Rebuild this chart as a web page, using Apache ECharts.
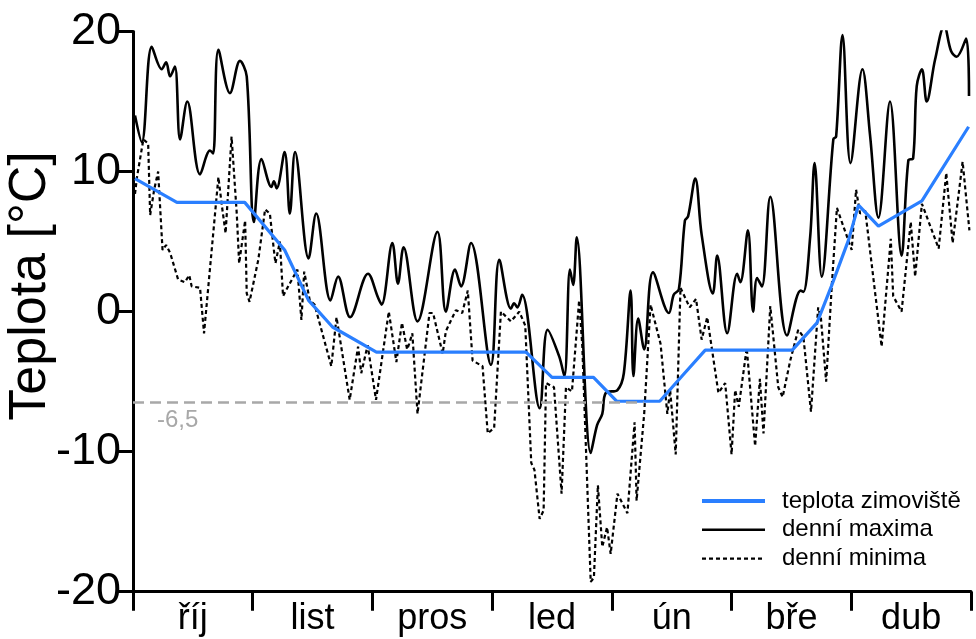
<!DOCTYPE html>
<html><head><meta charset="utf-8">
<script src="https://cdn.jsdelivr.net/npm/echarts@6/dist/echarts.min.js"></script>
<style>html,body{margin:0;padding:0;background:#fff}#c{width:976px;height:639px}</style>
</head><body><div id="c"></div>
<script>
const months = ['říj','list','pros','led','ún','bře','dub'];
const yTicks = [-20,-10,0,10,20];
const seriesNames = ['teplota zimoviště','denní maxima','denní minima'];
const threshold = -6.5;
const thresholdLabel = '-6,5';
const thresholdEndDay = 128;
const dayMax = 210;

// [day, °C]
const shelter = [[0.5,9.5],[11,7.8],[28,7.8],[38,4.4],[44,0.8],[50,-1.1],[61,-2.9],[98.5,-2.9],[105,-4.7],[115.4,-4.7],[121.2,-6.4],[132,-6.4],[137.6,-4.6],[143.4,-2.75],[165.2,-2.75],[171.4,-0.8],[175,1.8],[179.3,5.1],[181.8,7.6],[186.8,6.1],[197.7,7.9],[209.4,13.2]];

const dailyMax = [[0.5,14.0],[2.2,12.1],[4.7,18.9],[7.2,17.3],[8.3,17.8],[9.3,16.8],[10.5,17.5],[11.8,12.3],[13.6,15.0],[16.8,9.8],[19.3,11.5],[20.1,11.3],[21.4,18.7],[24.3,15.6],[26.8,17.9],[28.5,16.8],[30.3,6.4],[32.2,10.9],[34.7,8.9],[35.3,9.3],[36,8.8],[38,11.4],[39.3,7.0],[40.6,11.4],[44,3.8],[45.9,7.0],[49.5,0.8],[51.4,2.5],[54.4,-0.4],[58.9,2.7],[61.4,1.0],[62.3,0.5],[65,4.9],[66.4,2.0],[67.8,4.6],[71.3,-0.7],[76.3,5.7],[78.4,0.0],[80.7,3.0],[82.2,1.8],[84.7,4.9],[89.7,-3.8],[91.8,3.7],[94.7,0.2],[95.5,0.6],[96.3,0.3],[97.5,1.2],[101.9,-6.9],[103.9,-1.3],[106.8,-3.2],[108.1,-4.6],[109.5,3.0],[110.3,1.9],[111.2,5.3],[114.7,-10.1],[116.3,-8.1],[117.6,-7.3],[118.5,-5.8],[121.4,-5.6],[123,-4.4],[124.7,1.5],[125.4,-4.6],[126.6,-0.5],[128.1,-2.7],[130.3,2.8],[134.3,-0.1],[135.5,1.2],[136.8,1.6],[138.3,6.5],[139.1,6.8],[140.9,9.5],[142.5,5.5],[145.3,1.3],[146.4,4.0],[148.9,-1.55],[151.4,2.7],[152.2,2.1],[154.1,5.8],[155.4,0.0],[156.4,2.4],[157.6,1.8],[159.7,8.2],[163.9,-1.7],[167.3,1.5],[168,1.4],[169.7,5.35],[170.8,10.6],[172.6,2.5],[175.5,12.3],[176.2,12.5],[177.8,19.75],[179.8,10.6],[182.8,17.3],[184.7,12.6],[186.8,6.7],[189.7,15.0],[192.6,4.0],[194.3,10.8],[195.5,10.95],[196.4,16.1],[197.7,17.3],[198.9,15.0],[201,18.0],[203.3,20.4],[205,18.6],[206.4,18.2],[208.8,19.5],[209.5,15.4]];

const dailyMin = [[0.5,8.4],[1.0,9.6],[2.6,12.3],[3.8,12.0],[4.3,6.9],[5.3,8.7],[6.3,10.0],[7.4,4.4],[8.3,4.75],[9.3,4.2],[11.3,2.3],[13,2.1],[14.1,2.6],[14.7,1.8],[16.8,1.7],[17.8,-1.55],[21.4,9.6],[22.3,7.5],[23.2,5.6],[24.7,12.5],[26,7.0],[26.6,3.45],[28.1,6.5],[28.5,1.3],[29.2,0.7],[31.4,3.7],[33.1,7.3],[34.3,7.0],[35.3,4.4],[35.7,3.45],[36.8,5.0],[37.6,1.1],[38.5,1.6],[41.2,3.0],[42.2,-0.6],[42.9,2.85],[44.3,0.8],[45.5,0.5],[49.7,-3.9],[51,-0.4],[54.3,-6.3],[56.4,-2.5],[57.2,-4.4],[58.8,-2.4],[60.9,-6.3],[64.1,0.0],[66,-3.6],[67.4,-0.8],[68.7,-2.7],[69.2,-2.3],[70,-1.55],[71.3,-7.3],[74.3,-0.1],[75.2,-0.1],[77.6,-3.0],[78.4,-1.4],[80.9,0.1],[82.5,-0.1],[83.9,1.5],[85.1,-3.5],[87.6,-3.9],[88.9,-8.7],[90.5,-8.3],[92.2,0.0],[94.7,-0.7],[96.8,0.0],[98.3,-1.0],[99.8,-10.8],[100.6,-11.3],[101.9,-14.8],[102.9,-14.2],[103.5,-5.1],[105.5,-5.4],[107.4,-13.0],[108.5,-5.4],[110,-5.7],[111.8,0.8],[112.6,-2.5],[114.7,-19.3],[115.5,-19.0],[116.5,-12.4],[117.6,-16.8],[118.8,-15.4],[119.7,-17.3],[121.4,-13.0],[123.9,-14.4],[125.7,-7.9],[126.2,-13.5],[128.1,-7.3],[129.7,0.5],[132.2,-2.3],[133.9,-7.3],[134.6,-5.6],[136,-10.2],[137.2,1.7],[139.5,0.3],[141.1,0.9],[142.5,-2.0],[143.9,-0.4],[146.7,-5.8],[148.4,-5.1],[150,-10.2],[150.9,-5.6],[151.8,-6.8],[153.8,-2.6],[155.9,-9.6],[157.1,-4.8],[158,-8.7],[159.7,0.4],[161.7,-5.4],[162.8,-6.1],[164.7,-3.5],[166.7,-1.3],[168,-1.8],[169.9,-7.15],[171.7,0.3],[172.4,-0.5],[173.7,-5.0],[175.1,1.8],[176.4,7.4],[180.1,4.4],[181.2,8.7],[182.2,7.0],[183.5,7.2],[187.6,-2.5],[189.9,5.2],[190.5,1.1],[192.6,0.0],[194.9,6.4],[196,2.5],[197.7,7.7],[201.9,4.5],[203.8,9.9],[205.4,4.9],[207.9,10.7],[209.6,5.8]];

const FONT = 'Liberation Sans, Arial, sans-serif';
const chart = echarts.init(document.getElementById('c'), null, {renderer:'canvas'});
chart.setOption({
  animation:false,
  backgroundColor:'#fff',
  grid:{left:133, right:5, top:31.5, bottom:47.3, containLabel:false},
  xAxis:[{
    type:'value', min:0, max:dayMax, interval:30,
    axisLine:{show:true, onZero:false, lineStyle:{color:'#000', width:3}},
    axisTick:{show:true, length:19, lineStyle:{color:'#000', width:3}},
    axisLabel:{show:false}, splitLine:{show:false}
  },{
    type:'category', data:months, position:'bottom', boundaryGap:true,
    axisLine:{show:false, onZero:false}, axisTick:{show:false}, splitLine:{show:false},
    axisLabel:{show:true, margin:9, color:'#000', fontSize:36, fontFamily:FONT}
  }],
  yAxis:{
    type:'value', min:yTicks[0], max:yTicks[yTicks.length-1], interval:10,
    axisLine:{show:true, onZero:false, lineStyle:{color:'#000', width:3}},
    axisTick:{show:true, length:15, lineStyle:{color:'#000', width:3}},
    axisLabel:{show:true, margin:12, color:'#000', fontSize:45, fontFamily:FONT},
    splitLine:{show:false}
  },
  graphic:[{
    type:'text', x:31, y:286, rotation:Math.PI/2,
    style:{text:'Teplota [°C]', fill:'#000', font:'52px Liberation Sans, Arial, sans-serif', align:'center', verticalAlign:'middle'}
  }],
  legend:{
    data:[
      {name:seriesNames[0], lineStyle:{width:4}},
      {name:seriesNames[1], lineStyle:{width:2.6}},
      {name:seriesNames[2], lineStyle:{width:2.2}}
    ],
    orient:'vertical', left:695, top:484,
    itemWidth:63, itemHeight:14, itemGap:4.8,
    itemStyle:{opacity:0},
    textStyle:{fontSize:24, lineHeight:24, color:'#000', fontFamily:FONT, padding:[0,0,0,12]}
  },
  series:[{
    name:'threshold', type:'line', data:[], silent:true,
    markLine:{
      symbol:['none','none'], silent:true,
      lineStyle:{color:'#a8a8a8', width:2.5, type:[11,6]},
      label:{show:true, position:'insideStartBottom', formatter:thresholdLabel, color:'#a8a8a8', fontSize:24, fontFamily:FONT, distance:[24,6]},
      data:[[{coord:[0,threshold]},{coord:[thresholdEndDay,threshold]}]]
    }
  },{
    name:seriesNames[2], type:'line', data:dailyMin, symbol:'none', smooth:false,
    lineStyle:{color:'#000', width:2.2, type:[4,3]}, itemStyle:{color:'#000'}
  },{
    name:seriesNames[1], type:'line', data:dailyMax, symbol:'none', smooth:0.35,
    lineStyle:{color:'#000', width:2.6}, itemStyle:{color:'#000'}
  },{
    name:seriesNames[0], type:'line', data:shelter, symbol:'none', smooth:false,
    lineStyle:{color:'#2a7fff', width:3.2}, itemStyle:{color:'#2a7fff'}
  }]
});
</script></body></html>
